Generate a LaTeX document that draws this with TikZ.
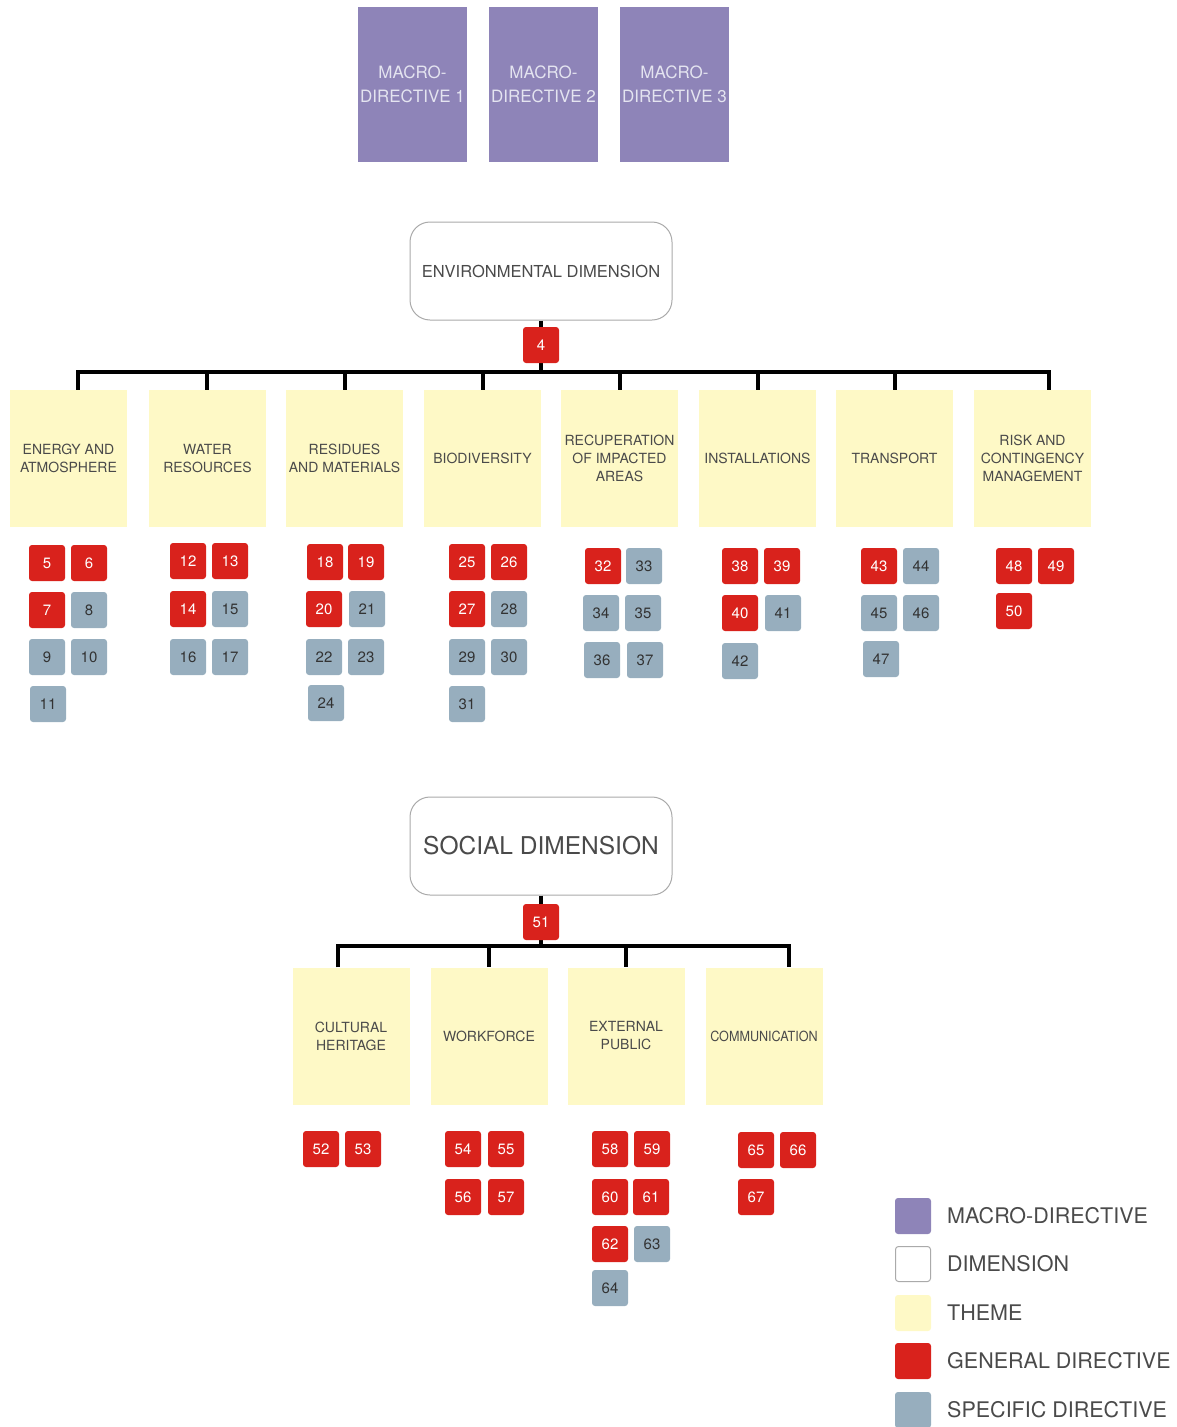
\documentclass[tikz,border=0pt]{standalone}
\usepackage{fontspec}
\setmainfont{TeX Gyre Heros}
\usepackage{graphicx}
\definecolor{macroc}{HTML}{8E84B8}
\definecolor{themec}{HTML}{FEF9C6}
\definecolor{gdirc}{HTML}{D9221C}
\definecolor{sdirc}{HTML}{97AEBE}
\definecolor{txtc}{HTML}{4A4A4A}
\definecolor{dimborder}{HTML}{AAAAAA}
\definecolor{macrotxt}{HTML}{E4E4F0}
\begin{document}
\begin{tikzpicture}[x=1pt,y=-1pt,
 macrobox/.style={fill=macroc, minimum width=109pt, minimum height=155pt, inner sep=0pt, text=macrotxt, align=center, font=\fontsize{17}{24}\selectfont},
 dimbox/.style={draw=dimborder, line width=1pt, rounded corners=20pt, fill=white, minimum width=262pt, minimum height=98pt, inner sep=0pt, text=txtc},
 themebox/.style={fill=themec, minimum width=117pt, minimum height=137pt, inner sep=0pt, align=center, text=txtc, font=\fontsize{14}{18}\selectfont},
 gdir/.style={fill=gdirc, rounded corners=3pt, minimum size=36pt, inner sep=0pt, text=white, font=\fontsize{15}{15}\selectfont},
 sdir/.style={fill=sdirc, rounded corners=3pt, minimum size=36pt, inner sep=0pt, text=black!80, font=\fontsize{15}{15}\selectfont},
 bar/.style={line width=3.5pt, black, line join=miter},
 legtxt/.style={anchor=west, inner sep=0pt, text=txtc, font=\fontsize{21.5}{22}\selectfont}]
\useasboundingbox (0,0) rectangle (1177,1427);

% macro-directives
\node[macrobox] (m1) at (412.5,84.5) {MACRO-\\DIRECTIVE 1};
\node[macrobox] (m2) at (543.5,84.5) {MACRO-\\DIRECTIVE 2};
\node[macrobox] (m3) at (674.5,84.5) {MACRO-\\DIRECTIVE 3};

% environmental dimension
\node[dimbox, font=\fontsize{16.5}{20}\selectfont] (env) at (541,271) {ENVIRONMENTAL DIMENSION};
\foreach \i/\x/\t in {1/68.5/{ENERGY AND\\ATMOSPHERE}, 2/207.5/{WATER\\RESOURCES}, 3/344.5/{RESIDUES\\AND MATERIALS}, 4/482.5/{BIODIVERSITY}, 5/619.5/{RECUPERATION\\OF IMPACTED\\AREAS}, 6/757.5/{INSTALLATIONS}, 7/894.5/{TRANSPORT}, 8/1032.5/{RISK AND\\CONTINGENCY\\MANAGEMENT}}
  \node[themebox] (et\i) at (\x,458.5) {\t};
\coordinate (e0) at (541,372);
\foreach \i/\x in {1/78,2/207,3/345,4/483,5/620,6/758,7/895,8/1049}
  \coordinate (eb\i) at (\x,372);
\draw[bar] (env) -- (e0);
\draw[bar] (eb1 |- et1.north) -- (eb1) -- (eb8) -- (eb8 |- et8.north);
\foreach \i in {2,...,7} \draw[bar] (eb\i) -- (eb\i |- et\i.north);
\node[gdir] (d4) at (541,345) {4};

% social dimension
\node[dimbox, font=\fontsize{24.5}{26}\selectfont] (soc) at (541,846) {SOCIAL DIMENSION};
\foreach \i/\x/\t in {1/351/{CULTURAL\\HERITAGE}, 2/489/{WORKFORCE}, 3/626/{EXTERNAL\\PUBLIC}, 4/764/{\scalebox{0.9}[1]{COMMUNICATION}}}
  \node[themebox] (st\i) at (\x,1036) {\t};
\coordinate (s0) at (541,946);
\foreach \i/\x in {1/338,2/489,3/626,4/789}
  \coordinate (sb\i) at (\x,946);
\draw[bar] (soc) -- (s0);
\draw[bar] (sb1 |- st1.north) -- (sb1) -- (sb4) -- (sb4 |- st4.north);
\foreach \i in {2,3} \draw[bar] (sb\i) -- (sb\i |- st\i.north);
\node[gdir] (d51) at (541,922) {51};

% directives
\foreach \n/\x/\y/\s in {
 5/47/563/gdir, 6/89/563/gdir, 7/47/610/gdir, 8/89/610/sdir, 9/47/657/sdir, 10/89/657/sdir, 11/48/704/sdir,
 12/188/561/gdir, 13/230/561/gdir, 14/188/609/gdir, 15/230/609/sdir, 16/188/657/sdir, 17/230/657/sdir,
 18/325/562/gdir, 19/366/562/gdir, 20/324/609/gdir, 21/367/609/sdir, 22/324/657/sdir, 23/366/657/sdir, 24/326/703/sdir,
 25/467/562/gdir, 26/509/562/gdir, 27/467/609/gdir, 28/509/609/sdir, 29/467/657/sdir, 30/509/657/sdir, 31/467/704/sdir,
 32/603/566/gdir, 33/644/566/sdir, 34/601/613/sdir, 35/643/613/sdir, 36/602/660/sdir, 37/645/660/sdir,
 38/740/566/gdir, 39/782/566/gdir, 40/740/613/gdir, 41/783/613/sdir, 42/740/661/sdir,
 43/879/566/gdir, 44/921/566/sdir, 45/879/613/sdir, 46/921/613/sdir, 47/881/659/sdir,
 48/1014/566/gdir, 49/1056/566/gdir, 50/1014/611/gdir,
 52/321/1149/gdir, 53/363/1149/gdir,
 54/463/1149/gdir, 55/506/1149/gdir, 56/463/1197/gdir, 57/506/1197/gdir,
 58/610/1149/gdir, 59/652/1149/gdir, 60/610/1197/gdir, 61/651/1197/gdir, 62/610/1244/gdir, 63/652/1244/sdir, 64/610/1288/sdir,
 65/756/1150/gdir, 66/798/1150/gdir, 67/756/1197/gdir}
  \node[\s] (d\n) at (\x,\y) {\n};

% legend
\node[fill=macroc, rounded corners=3pt, minimum size=36pt, inner sep=0pt] (lg1) at (913,1216) {};
\node[draw=dimborder, line width=1pt, fill=white, rounded corners=3pt, minimum size=35pt, inner sep=0pt] (lg2) at (913,1264) {};
\node[fill=themec, rounded corners=3pt, minimum size=36pt, inner sep=0pt] (lg3) at (913,1313) {};
\node[fill=gdirc, rounded corners=3pt, minimum size=36pt, inner sep=0pt] (lg4) at (913,1361) {};
\node[fill=sdirc, rounded corners=3pt, minimum size=36pt, inner sep=0pt] (lg5) at (913,1410) {};
\node[legtxt] (lt1) at (947,1216) {MACRO-DIRECTIVE};
\node[legtxt] (lt2) at (947,1264) {DIMENSION};
\node[legtxt] (lt3) at (947,1313) {THEME};
\node[legtxt] (lt4) at (947,1361) {GENERAL DIRECTIVE};
\node[legtxt] (lt5) at (947,1410) {SPECIFIC DIRECTIVE};
\end{tikzpicture}
\end{document}
